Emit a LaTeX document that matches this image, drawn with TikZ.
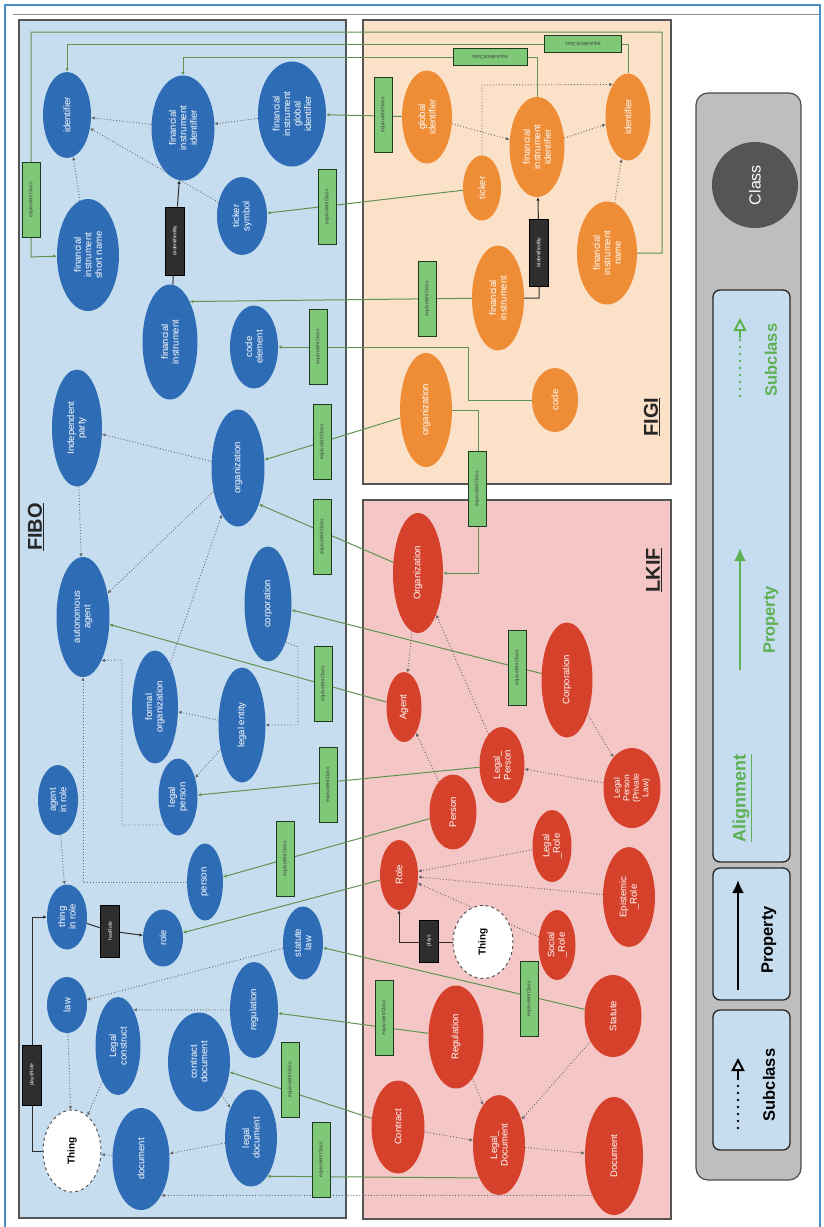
\documentclass[tikz,border=0pt]{standalone}
\usepackage{fontspec}
\setmainfont{Liberation Sans}
\setsansfont{Liberation Sans}
\usetikzlibrary{shapes.geometric,arrows.meta}
\definecolor{fiboBlue}{HTML}{2E6CB6}
\definecolor{figiOr}{HTML}{EE8D36}
\definecolor{lkifRed}{HTML}{D6412C}
\definecolor{panelBlue}{HTML}{C6DDF0}
\definecolor{panelPeach}{HTML}{FCE1C9}
\definecolor{panelPink}{HTML}{F4C6C6}
\definecolor{panelLine}{HTML}{555555}
\definecolor{eqFill}{HTML}{7EC878}
\definecolor{eqDark}{HTML}{1F3A1F}
\definecolor{eqLine}{HTML}{5E9450}
\definecolor{subGrey}{HTML}{666666}
\definecolor{propDark}{HTML}{2E2E2E}
\definecolor{legGrey}{HTML}{BEBEBE}
\definecolor{classGrey}{HTML}{555555}
\definecolor{legGreen}{HTML}{5DB053}
\definecolor{frameBlue}{HTML}{4A90C8}
\pgfdeclarelayer{bg}
\pgfdeclarelayer{edges}
\pgfsetlayers{bg,edges,main}
\tikzset{
  sz/.style 2 args={minimum width=#2pt, minimum height=#1pt},
  cls/.style={ellipse, rotate=90, inner sep=0pt, text=white, align=center,
    font=\fontsize{9.5}{10.5}\selectfont},
  fibo/.style={cls, fill=fiboBlue},
  figi/.style={cls, fill=figiOr},
  lkif/.style={cls, fill=lkifRed},
  thingnode/.style={cls, fill=white, draw=panelLine, dashed, line width=1pt, text=black},
  eqbox/.style={rectangle, rotate=90, fill=eqFill, draw=eqDark, line width=0.9pt,
    minimum width=75pt, minimum height=18pt, inner sep=0pt,
    font=\fontsize{5}{6}\selectfont, text=black!75},
  eqboxh/.style={rectangle, rotate=180, fill=eqFill, draw=eqDark, line width=0.9pt,
    minimum height=17pt, inner sep=0pt, font=\fontsize{5}{6}\selectfont, text=black!75},
  propbox/.style={rectangle, rotate=90, fill=propDark, draw=black, line width=0.6pt,
    minimum height=19pt, inner sep=0pt, font=\fontsize{5}{6}\selectfont, text=white!70},
  subedge/.style={draw=subGrey, dotted, line width=0.9pt, -{Latex[length=3.5pt,width=3.5pt]}},
  eqedge/.style={draw=eqLine, line width=1pt, -{Latex[length=3.5pt,width=3.5pt]}},
  propedge/.style={draw=propDark, line width=1pt, -{Latex[length=3.5pt,width=3.5pt]}},
  ttl/.style={rotate=90, font=\fontsize{20}{22}\selectfont\bfseries, text=black!85},
  legtext/.style={rotate=90, font=\fontsize{16.5}{18}\selectfont\bfseries},
  legdots/.style={line width=2.8pt, line cap=round, dash pattern=on 0pt off 7pt},
  legtri/.style={line width=2pt, -{Triangle[open, length=13pt, width=13pt]}},
}
\begin{document}
\begin{tikzpicture}[x=1pt,y=-1pt]
\useasboundingbox (0,0) rectangle (824,1227);
\begin{pgfonlayer}{bg}
  \fill[white] (0,0) rectangle (824,1227);
  \draw[frameBlue, line width=1.2pt] (5,1227) -- (5,5) -- (820,5) -- (820,1227);
  \draw[black!45, line width=1pt] (13,14) -- (820,14);
  \draw[fill=panelBlue, draw=panelLine, line width=1.5pt] (19,20) rectangle (346,1218);
  \draw[fill=panelPeach, draw=panelLine, line width=1.5pt] (363,20) rectangle (671,484);
  \draw[fill=panelPink, draw=panelLine, line width=1.5pt] (363,500) rectangle (671,1219);
  \draw[fill=legGrey, draw=black!70, line width=1.2pt, rounded corners=12pt] (696,93) rectangle (801,1180);
  \draw[fill=panelBlue, draw=black!85, line width=1.3pt, rounded corners=7pt] (713,290) rectangle (790,862);
  \draw[fill=panelBlue, draw=black!85, line width=1.3pt, rounded corners=7pt] (713,868) rectangle (790,1000);
  \draw[fill=panelBlue, draw=black!85, line width=1.3pt, rounded corners=7pt] (713,1010) rectangle (790,1150);
\end{pgfonlayer}

% titles
\node[ttl] (tfibo) at (36,527) {\underline{FIBO}};
\node[ttl] (tfigi) at (652,417) {\underline{FIGI}};
\node[ttl] (tlkif) at (654,570) {\underline{LKIF}};

% ---------------- FIBO nodes
\node[fibo, sz={48}{86}] (fid) at (67,115) {identifier};
\node[fibo, sz={63}{105}] (ffii) at (183,128) {financial\\instrument\\identifier};
\node[fibo, sz={68}{105}] (fgid) at (292,114) {financial\\instrument\\global\\identifier};
\node[fibo, sz={50}{78}] (ftick) at (242,216) {ticker\\symbol};
\node[fibo, sz={62}{112}] (fsn) at (88,255) {financial\\instrument\\short name};
\node[fibo, sz={55}{115}] (ffi) at (170,342) {financial\\instrument};
\node[fibo, sz={48}{83}] (fce) at (254,347) {code\\element};
\node[fibo, sz={50}{117}] (fip) at (77,428) {Independent\\party};
\node[fibo, sz={53}{117}] (forg) at (238,468) {organization};
\node[fibo, sz={53}{120}] (faa) at (83,617) {autonomous\\agent};
\node[fibo, sz={47}{115}] (fcorp) at (268,604) {corporation};
\node[fibo, sz={46}{113}] (ffo) at (155,707) {formal\\organization};
\node[fibo, sz={47}{115}] (fle) at (242,725) {legal entity};
\node[fibo, sz={39}{77}] (flp) at (178,797) {legal\\person};
\node[fibo, sz={40}{70}] (fair) at (58,800) {agent\\in role};
\node[fibo, sz={36}{77}] (fperson) at (205,882) {person};
\node[fibo, sz={40}{65}] (ftir) at (67,917) {thing\\in role};
\node[fibo, sz={40}{57}] (frole) at (163,938) {role};
\node[fibo, sz={40}{73}] (fstat) at (303,943) {statute\\law};
\node[fibo, sz={40}{56}] (flaw) at (67,1005) {law};
\node[fibo, sz={45}{98}] (flc) at (118,1046) {Legal\\construct};
\node[fibo, sz={48}{96}] (freg) at (254,1010) {regulation};
\node[fibo, sz={62}{99}] (fcd) at (199,1062) {contract\\document};
\node[thingnode, sz={58}{82}, font=\fontsize{10}{12}\selectfont\bfseries] (fthing) at (72,1151) {Thing};
\node[fibo, sz={57}{102}] (fdoc) at (141,1159) {document};
\node[fibo, sz={52}{97}] (fld) at (251,1138) {legal\\document};

% ---------------- FIGI nodes
\node[figi, sz={50}{93}] (gglob) at (427,117) {global\\identifier};
\node[figi, sz={38}{65}] (gtick) at (482,188) {ticker};
\node[figi, sz={55}{100}] (gfii) at (537,147) {financial\\instrument\\identifier};
\node[figi, sz={45}{87}] (gid) at (628,117) {identifier};
\node[figi, sz={60}{103}] (gnm) at (607,253) {financial\\instrument\\name};
\node[figi, sz={52}{105}] (gfi) at (498,298) {financial\\instrument};
\node[figi, sz={46}{64}] (gcode) at (555,400) {code};
\node[figi, sz={52}{114}] (gorg) at (426,410) {organization};

% ---------------- LKIF nodes
\node[lkif, sz={50}{120}] (lorg) at (418,573) {Organization};
\node[lkif, sz={35}{70}] (lagent) at (404,707) {Agent};
\node[lkif, sz={51}{115}] (lcorp) at (567,680) {Corporation};
\node[lkif, sz={45}{76}] (llp) at (502,765) {Legal\_\\Person};
\node[lkif, sz={47}{75}] (lperson) at (453,812) {Person};
\node[lkif, sz={57}{80}, font=\fontsize{8.5}{9.5}\selectfont] (lplp) at (632,788) {Legal\\Person\\(Private\\Law)};
\node[lkif, sz={39}{72}] (llr) at (552,846) {Legal\\\_Role};
\node[lkif, sz={38}{70}] (lrole) at (399,875) {Role};
\node[lkif, sz={52}{100}] (ler) at (629,897) {Epistemic\\\_Role};
\node[lkif, sz={37}{70}] (lsr) at (557,945) {Social\\\_Role};
\node[thingnode, sz={60}{73}, font=\fontsize{10}{12}\selectfont\bfseries] (lthing) at (483,942) {Thing};
\node[lkif, sz={55}{103}] (lreg) at (456,1037) {Regulation};
\node[lkif, sz={57}{82}] (lstat) at (613,1016) {Statute};
\node[lkif, sz={53}{93}] (lcontract) at (398,1127) {Contract};
\node[lkif, sz={52}{100}] (lld) at (499,1145) {Legal\_\\Document};
\node[lkif, sz={58}{118}] (ldoc) at (614,1156) {Document};

% ---------------- boxes
\node[eqbox] (e1) at (31,200) {equivalentClass};
\node[eqboxh, minimum width=77pt] (e2) at (583,44) {equivalentClass};
\node[eqboxh, minimum width=74pt] (e3) at (490,57) {equivalentClass};
\node[eqbox] (e4) at (383,115) {equivalentClass};
\node[eqbox] (e5) at (327,207) {equivalentClass};
\node[eqbox] (e6) at (427,299) {equivalentClass};
\node[eqbox] (e7) at (318,347) {equivalentClass};
\node[eqbox] (e8) at (322,442) {equivalentClass};
\node[eqbox] (e9) at (322,537) {equivalentClass};
\node[eqbox] (e10) at (477,489) {equivalentClass};
\node[eqbox] (e11) at (517,668) {equivalentClass};
\node[eqbox] (e12) at (323,684) {equivalentClass};
\node[eqbox] (e13) at (328,785) {equivalentClass};
\node[eqbox] (e14) at (285,859) {equivalentClass};
\node[eqbox] (e15) at (529,999) {equivalentClass};
\node[eqbox] (e16) at (384,1018) {equivalentClass};
\node[eqbox] (e17) at (290,1080) {equivalentClass};
\node[eqbox] (e18) at (321,1160) {equivalentClass};
\node[propbox, minimum width=68pt] (fisid) at (175,241) {isIdentifiedBy};
\node[propbox, minimum width=67pt] (gisid) at (539,253) {isIdentifiedBy};
\node[propbox, minimum width=52pt] (fhas) at (110,931) {hasRole};
\node[propbox, minimum width=60pt] (fplays) at (32,1075) {playsRole};
\node[propbox, minimum width=42pt] (lplays) at (429,941) {plays};

% route coordinates
\coordinate (r1) at (662,32);
\coordinate (r2) at (31,257);
\coordinate (r3) at (67,44);
\coordinate (r4) at (183,57);
\coordinate (r5) at (468,347);
\coordinate (r6) at (478,573);
\coordinate (r7) at (298,647);
\coordinate (r8) at (298,725);
\coordinate (r9) at (122,825);
\coordinate (r10) at (122,660);
\coordinate (r12) at (482,85);

\begin{pgfonlayer}{edges}
% equivalentClass alignments
\draw[eqedge] (gnm) -| (r1) -| (r2) -- (fsn);
\draw[eqedge] (gid) |- (r3) -- (fid);
\draw[eqedge] (gfii) |- (r4) -- (ffii);
\draw[eqedge] (gglob) -- (fgid);
\draw[eqedge] (gtick) -- (ftick);
\draw[eqedge] (gfi) -- (ffi.-26);
\draw[eqedge] (gcode) -| (r5) -- (fce);
\draw[eqedge] (gorg) -- (forg);
\draw[eqedge] (lorg) -- (forg.-150);
\draw[eqedge] (gorg) -| (r6) -- (lorg);
\draw[eqedge] (lcorp) -- (fcorp);
\draw[eqedge] (lagent) -- (faa);
\draw[eqedge] (llp) -- (flp);
\draw[eqedge] (lperson) -- (fperson);
\draw[eqedge] (lrole) -- (frole);
\draw[eqedge] (lstat) -- (fstat);
\draw[eqedge] (lreg) -- (freg);
\draw[eqedge] (lcontract) -- (fcd);
\draw[eqedge] (lld.149) -- (fld.-157);
% FIBO subclass
\draw[subedge] (ffii) -- (fid);
\draw[subedge] (fgid) -- (ffii);
\draw[subedge] (ftick) -- (fid);
\draw[subedge] (fsn) -- (fid);
\draw[subedge] (fip) -- (faa);
\draw[subedge] (forg) -- (fip);
\draw[subedge] (forg) -- (faa);
\draw[subedge] (ffo) -- (forg);
\draw[subedge] (fle) -- (ffo);
\draw[subedge] (fle) -- (flp);
\draw[subedge] (fcorp.-155) -- (r7) -- (r8) -- (fle);
\draw[subedge] (flp.154) -- (r9) -- (r10) -- (faa.-157);
\draw[subedge] (fperson) -| (faa);
\draw[subedge] (fair) -- (ftir);
\draw[subedge] (fstat) -- (flaw);
\draw[subedge] (flaw) -- (fthing);
\draw[subedge] (flc) -- (fthing);
\draw[subedge] (freg) -- (flc.-23);
\draw[subedge] (fcd) -- (fld);
\draw[subedge] (fld) -- (fdoc);
\draw[subedge] (fdoc) -- (fthing);
\draw[subedge] (ldoc.151) -- (fdoc.-151);
% FIBO properties
\draw[propedge] (ffi) -- (fisid) -- (ffii);
\draw[propedge] (ftir) -- (fhas) -- (frole);
\draw[propedge] (fthing.north) -| (fplays) |- (ftir);
% FIGI subclass
\draw[subedge] (gglob) -- (gfii);
\draw[subedge] (gfii) -- (gid);
\draw[subedge] (gnm) -- (gid);
\draw[subedge] (gtick) -- (r12) -- (gid.25);
\draw[propedge] (gfi) -| (gisid) -- (gfii);
% LKIF subclass
\draw[subedge] (lorg) -- (lagent);
\draw[subedge] (llp) -- (lorg);
\draw[subedge] (lperson) -- (lagent);
\draw[subedge] (lcorp) -- (lplp);
\draw[subedge] (lplp) -- (llp);
\draw[subedge] (llr) -- (lrole);
\draw[subedge] (ler) -- (lrole);
\draw[subedge] (lsr) -- (lrole);
\draw[subedge] (lreg) -- (lld);
\draw[subedge] (lstat) -- (lld);
\draw[subedge] (lcontract) -- (lld);
\draw[subedge] (lld) -- (ldoc);
\draw[propedge] (lthing) -| (lrole);
\end{pgfonlayer}

% ---------------- legend
\node[circle, fill=classGrey, minimum size=86pt, text=white, rotate=90, font=\fontsize{16}{18}\selectfont] (lgclass) at (755,185) {Class};
\node[legtext, text=legGreen, font=\fontsize{18}{20}\selectfont\bfseries] (lgal) at (742,798) {\underline{Alignment}};
\node[legtext, text=legGreen] (lgprop) at (771,620) {Property};
\node[legtext, text=legGreen] (lgsub) at (771,360) {Subclass};
\node[legtext, text=black] (lgprop2) at (769,940) {Property};
\node[legtext, text=black] (lgsub2) at (769,1085) {Subclass};
\coordinate (la1) at (740,670);
\coordinate (la2) at (740,548);
\coordinate (lb1) at (740,396);
\coordinate (lb3) at (740,338);
\coordinate (lb2) at (740,318);
\coordinate (lc1) at (738,990);
\coordinate (lc2) at (738,880);
\coordinate (ld1) at (738,1128);
\coordinate (ld3) at (738,1078);
\coordinate (ld2) at (738,1058);
\draw[legGreen, line width=2.4pt, -{Latex[length=13pt,width=12pt]}] (la1) -- (la2);
\draw[legGreen, legdots] (lb1) -- (lb3);
\draw[legGreen, legtri] (lb3) -- (lb2);
\draw[black, line width=2.4pt, -{Latex[length=13pt,width=12pt]}] (lc1) -- (lc2);
\draw[black, legdots] (ld1) -- (ld3);
\draw[black, legtri] (ld3) -- (ld2);
\end{tikzpicture}
\end{document}
